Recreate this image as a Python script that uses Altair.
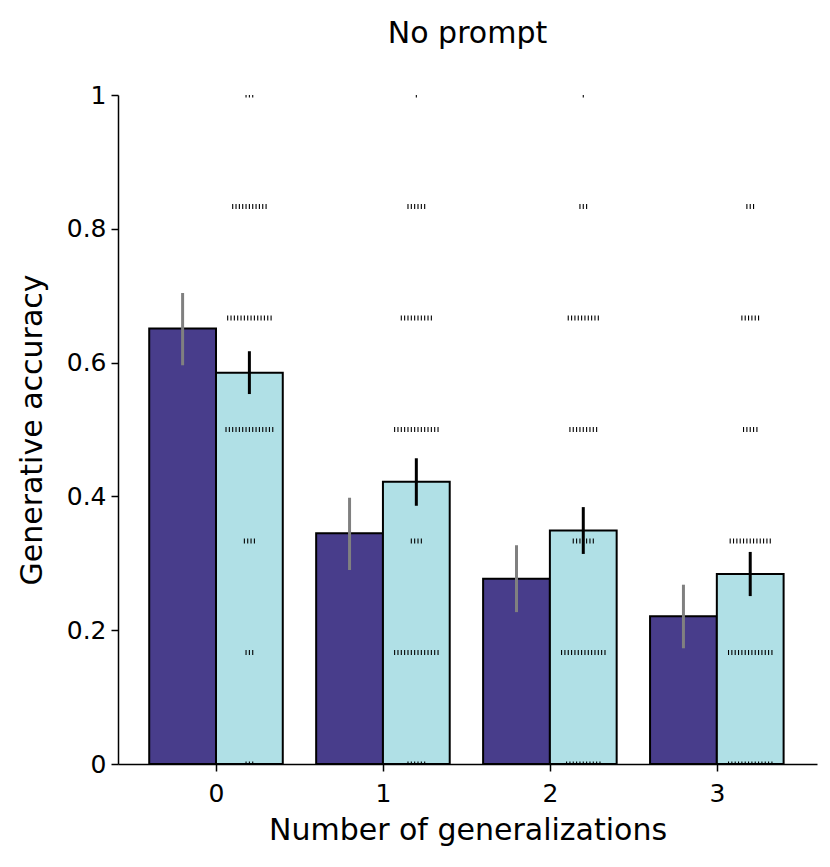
import altair as alt
import pandas as pd

# ---- data ----
gens = [0, 1, 2, 3]
series_names = ["dark", "light"]
dark_mean = [0.651, 0.345, 0.277, 0.221]
dark_lo = [0.596, 0.290, 0.227, 0.173]
dark_hi = [0.704, 0.398, 0.327, 0.268]
light_mean = [0.585, 0.422, 0.349, 0.284]
light_lo = [0.553, 0.386, 0.314, 0.251]
light_hi = [0.617, 0.457, 0.384, 0.317]

levels = [0, 1 / 6, 2 / 6, 3 / 6, 4 / 6, 5 / 6, 1]
strip_counts = {
    0: [3, 3, 4, 15, 14, 11, 3],
    1: [6, 14, 4, 14, 10, 6, 1],
    2: [11, 14, 7, 9, 10, 3, 1],
    3: [14, 14, 13, 5, 6, 3, 0],
}

y_ticks = [0, 0.2, 0.4, 0.6, 0.8, 1]

# ---- tables ----
rows = []
for i, g in enumerate(gens):
    rows.append(dict(gen=g, series="dark", mean=dark_mean[i], lo=dark_lo[i], hi=dark_hi[i]))
    rows.append(dict(gen=g, series="light", mean=light_mean[i], lo=light_lo[i], hi=light_hi[i]))
bars_df = pd.DataFrame(rows)

srows = []
for g in gens:
    for lv, n in zip(levels, strip_counts[g]):
        for k in range(n):
            srows.append(dict(gen=g, level=lv, k=k, n=n))
strip_df = pd.DataFrame(srows)

FONT = "DejaVu Sans"
xscale = alt.Scale(domain=[-0.587, 3.6], nice=False, zero=False, padding=0)
yscale = alt.Scale(domain=[0, 1], nice=False, padding=0)

xaxis = alt.Axis(values=gens, format="d", title="Number of generalizations", grid=False,
                 tickSize=7, tickWidth=1.5, domainWidth=1.5, domainColor="black",
                 tickColor="black", labelColor="black", titleColor="black",
                 labelFont=FONT, titleFont=FONT, labelFontSize=25, titleFontSize=30,
                 titleFontWeight="normal", labelPadding=10, titlePadding=9)
yaxis = alt.Axis(values=y_ticks, format="~g", title="Generative accuracy", grid=False,
                 tickSize=7, tickWidth=1.5, domainWidth=1.5, domainColor="black",
                 tickColor="black", labelColor="black", titleColor="black",
                 labelFont=FONT, titleFont=FONT, labelFontSize=25, titleFontSize=30,
                 titleFontWeight="normal", labelPadding=5, titlePadding=19)

base = alt.Chart(bars_df).transform_calculate(
    x0="datum.gen + (datum.series == 'dark' ? -0.4 : 0)",
    x1="datum.gen + (datum.series == 'dark' ? 0 : 0.4)",
    xc="datum.gen + (datum.series == 'dark' ? -0.2 : 0.2)",
)

bars = base.mark_bar(stroke="black", strokeWidth=2).encode(
    x=alt.X("x0:Q", scale=xscale, axis=xaxis),
    x2="x1:Q",
    y=alt.Y("mean:Q", scale=yscale, axis=yaxis),
    y2=alt.datum(0),
    fill=alt.condition(alt.datum.series == "dark", alt.value("#483D8B"), alt.value("#B0E0E6")),
)

errs = base.mark_rule(strokeWidth=3).encode(
    x=alt.X("xc:Q", scale=xscale),
    y=alt.Y("lo:Q", scale=yscale),
    y2="hi:Q",
    color=alt.condition(alt.datum.series == "dark", alt.value("gray"), alt.value("black")),
)

ticks = alt.Chart(strip_df).transform_calculate(
    xs="datum.gen + 0.2 + (datum.k - (datum.n - 1) / 2) * 0.02"
).mark_tick(orient="vertical", size=5, thickness=1.1, color="black", opacity=1, clip=True).encode(
    x=alt.X("xs:Q", scale=xscale),
    y=alt.Y("level:Q", scale=yscale),
)

chart = alt.layer(bars, ticks, errs).properties(
    width=699, height=669,
    background="white",
    title=alt.TitleParams("No prompt", font=FONT, fontSize=30, fontWeight="normal",
                          color="black", baseline="alphabetic", offset=10),
    autosize=alt.AutoSizeParams(type="none"),
    padding={"left": 110, "top": 87, "right": 5, "bottom": 95},
).configure_view(stroke=None, strokeWidth=0)

chart.save("out.html", embed_options={"renderer": "svg", "actions": False})
